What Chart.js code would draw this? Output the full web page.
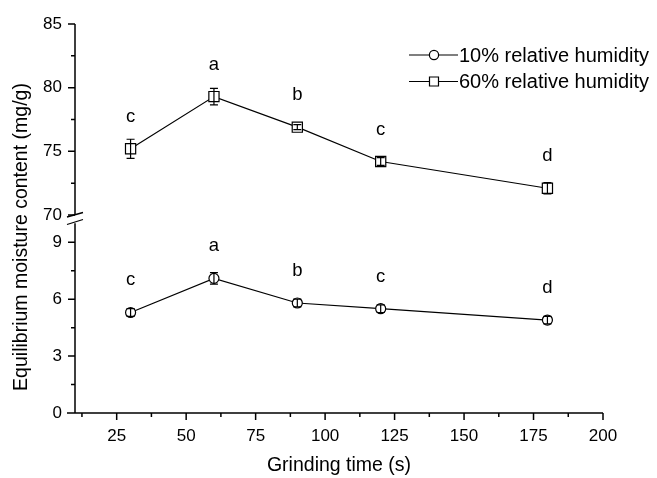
<!DOCTYPE html>
<html>
<head>
<meta charset="utf-8">
<script src="https://cdn.jsdelivr.net/npm/chart.js@4.4.0/dist/chart.umd.min.js"></script>
<style>
html, body { margin: 0; padding: 0; background: #fff; }
#wrap { width: 657px; height: 478px; }
</style>
</head>
<body>
<div id="wrap"><canvas id="myChart" width="657" height="478"></canvas></div>
<script>
// data
const grindTime = [30, 60, 90, 120, 180];
const rh10 = [5.3, 7.1, 5.8, 5.5, 4.9];
const rh10Err = [0.2, 0.3, 0.2, 0.2, 0.2];
const rh10Letters = ['c', 'a', 'b', 'c', 'd'];
const rh60 = [75.2, 79.3, 76.9, 74.2, 72.1];
const rh60Err = [0.75, 0.65, 0.2, 0.3, 0.45];
const rh60Letters = ['c', 'a', 'b', 'c', 'd'];
const xTicks = [25, 50, 75, 100, 125, 150, 175, 200];
const lowTicks = [0, 3, 6, 9];
const highTicks = [70, 75, 80, 85];

const FONT = '"Liberation Sans", Arial, sans-serif';

// error bars, letters, axes with break, legend
const extras = {
    id: 'extras',
    afterDatasetsDraw(chart) {
        const ctx = chart.ctx;
        const x = chart.scales.x;
        const sets = [
            { id: 'yLow', vals: rh10, err: rh10Err, letters: rh10Letters },
            { id: 'yHigh', vals: rh60, err: rh60Err, letters: rh60Letters }
        ];
        ctx.save();
        ctx.strokeStyle = '#000';
        ctx.fillStyle = '#000';
        ctx.lineWidth = 1.2;
        sets.forEach(s => {
            const y = chart.scales[s.id];
            s.vals.forEach((v, i) => {
                const px = x.getPixelForValue(grindTime[i]);
                const top = y.getPixelForValue(v + s.err[i]);
                const bot = y.getPixelForValue(v - s.err[i]);
                ctx.beginPath();
                ctx.moveTo(px, top); ctx.lineTo(px, bot);
                ctx.moveTo(px - 4, top); ctx.lineTo(px + 4, top);
                ctx.moveTo(px - 4, bot); ctx.lineTo(px + 4, bot);
                ctx.stroke();
                ctx.font = '18.5px ' + FONT;
                ctx.textAlign = 'center';
                ctx.textBaseline = 'alphabetic';
                ctx.fillText(s.letters[i], px, y.getPixelForValue(v) - 27);
            });
        });
        ctx.restore();
    },
    afterDraw(chart) {
        const ctx = chart.ctx;
        const x = chart.scales.x, lo = chart.scales.yLow, hi = chart.scales.yHigh;
        const ax = chart.chartArea.left;
        ctx.save();
        ctx.strokeStyle = '#000';
        ctx.lineWidth = 1.5;
        ctx.beginPath();
        // y axis, upper and lower parts
        ctx.moveTo(ax, hi.getPixelForValue(85)); ctx.lineTo(ax, hi.getPixelForValue(70));
        ctx.moveTo(ax, lo.getPixelForValue(10)); ctx.lineTo(ax, lo.getPixelForValue(0));
        // x axis
        const base = lo.getPixelForValue(0);
        ctx.moveTo(ax - 8, base); ctx.lineTo(x.getPixelForValue(200), base);
        // y ticks
        [[lo, lowTicks], [hi, highTicks]].forEach(([sc, t]) => {
            t.forEach((v, i) => {
                const p = sc.getPixelForValue(v);
                ctx.moveTo(ax, p); ctx.lineTo(ax - 7, p);
                if (i < t.length - 1) {
                    const m = sc.getPixelForValue((v + t[i + 1]) / 2);
                    ctx.moveTo(ax, m); ctx.lineTo(ax - 4, m);
                }
            });
        });
        // x ticks
        xTicks.forEach(v => {
            const p = x.getPixelForValue(v);
            ctx.moveTo(p, base); ctx.lineTo(p, base + 7);
            const m = x.getPixelForValue(v - 12.5);
            ctx.moveTo(m, base); ctx.lineTo(m, base + 4);
        });
        ctx.stroke();
        // break marks
        const b = hi.getPixelForValue(70);
        ctx.lineWidth = 1.3;
        ctx.beginPath();
        ctx.moveTo(ax - 8, b + 2); ctx.lineTo(ax + 8, b - 2.5);
        ctx.moveTo(ax - 8, b + 9.5); ctx.lineTo(ax + 8, b + 4.5);
        ctx.stroke();

        // y title
        ctx.fillStyle = '#000';
        ctx.font = '19.5px ' + FONT;
        ctx.textAlign = 'center';
        ctx.textBaseline = 'middle';
        ctx.save();
        ctx.translate(22, 237);
        ctx.rotate(-Math.PI / 2);
        ctx.fillText('Equilibrium moisture content (mg/g)', 0, 0);
        ctx.restore();

        // legend
        const rows = [55, 81.5];
        chart.data.datasets.forEach((ds, i) => {
            const ly = rows[i];
            ctx.lineWidth = 1.2;
            ctx.beginPath();
            ctx.moveTo(409, ly); ctx.lineTo(458, ly);
            ctx.stroke();
            ctx.fillStyle = '#fff';
            ctx.beginPath();
            if (ds.pointStyle === 'circle') {
                ctx.arc(434, ly, 4.6, 0, Math.PI * 2);
            } else {
                ctx.rect(429.5, ly - 4.5, 9, 9);
            }
            ctx.fill();
            ctx.stroke();
            ctx.fillStyle = '#000';
            ctx.font = '20px ' + FONT;
            ctx.textAlign = 'left';
            ctx.textBaseline = 'middle';
            ctx.fillText(ds.label, 459, ly + 1);
        });
        ctx.restore();
    }
};

const ctx = document.getElementById('myChart').getContext('2d');
const chart = new Chart(ctx, {
    type: 'line',
    data: {
        datasets: [{
            label: '10% relative humidity',
            data: grindTime.map((t, i) => ({ x: t, y: rh10[i] })),
            yAxisID: 'yLow',
            borderColor: '#000',
            borderWidth: 1.2,
            pointStyle: 'circle',
            pointRadius: 5,
            pointBackgroundColor: '#fff',
            pointBorderColor: '#000',
            pointBorderWidth: 1.2
        }, {
            label: '60% relative humidity',
            data: grindTime.map((t, i) => ({ x: t, y: rh60[i] })),
            yAxisID: 'yHigh',
            borderColor: '#000',
            borderWidth: 1.2,
            pointStyle: 'rect',
            pointRadius: 7.2,
            pointBackgroundColor: '#fff',
            pointBorderColor: '#000',
            pointBorderWidth: 1.2
        }]
    },
    options: {
        responsive: false,
        animation: false,
        devicePixelRatio: 1,
        layout: { padding: { top: 24, right: 54, bottom: 0, left: 0 } },
        plugins: { legend: { display: false }, tooltip: { enabled: false } },
        scales: {
            x: {
                type: 'linear',
                min: 10,
                max: 200,
                afterBuildTicks: s => { s.ticks = xTicks.map(v => ({ value: v })); },
                afterFit: s => { s.height = 65; },
                grid: { display: false, drawTicks: false },
                border: { display: false },
                ticks: { color: '#000', font: { size: 17, family: FONT }, padding: 13, autoSkip: false, maxRotation: 0 },
                title: { display: true, text: 'Grinding time (s)', color: '#000', font: { size: 19.5, family: FONT }, padding: { top: 0, bottom: 1 } }
            },
            yLow: {
                type: 'linear',
                position: 'left',
                stack: 'y',
                stackWeight: 198,
                min: 0,
                max: 10.44,
                afterBuildTicks: s => { s.ticks = lowTicks.map(v => ({ value: v })); },
                afterFit: s => { s.width = 75; },
                grid: { display: false, drawTicks: false },
                border: { display: false },
                ticks: { color: '#000', font: { size: 17, family: FONT }, padding: 13, autoSkip: false }
            },
            yHigh: {
                type: 'linear',
                position: 'left',
                stack: 'y',
                stackWeight: 191,
                min: 70,
                max: 85,
                afterBuildTicks: s => { s.ticks = highTicks.map(v => ({ value: v })); },
                afterFit: s => { s.width = 75; },
                grid: { display: false, drawTicks: false },
                border: { display: false },
                ticks: { color: '#000', font: { size: 17, family: FONT }, padding: 13, autoSkip: false }
            }
        }
    },
    plugins: [extras]
});
</script>
</body>
</html>
